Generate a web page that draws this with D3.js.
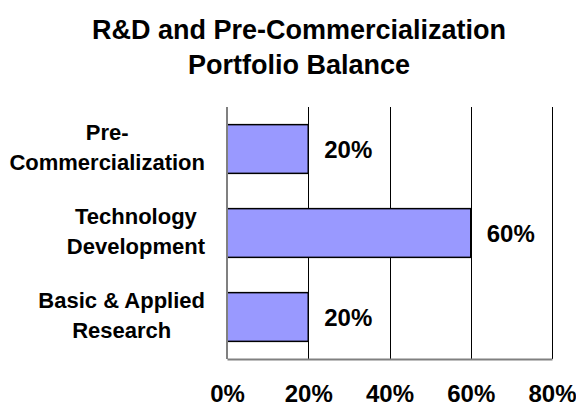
<!DOCTYPE html>
<html>
<head>
<meta charset="utf-8">
<script src="https://cdn.jsdelivr.net/npm/d3@7"></script>
<style>
  body { margin: 0; background: #fff; }
  text { font-family: "Liberation Sans", Arial, sans-serif; font-weight: bold; fill: #000; }
</style>
</head>
<body>
<script>
// data
const categories = ["Pre-Commercialization", "Technology Development", "Basic & Applied Research"];
const categoryLines = [["Pre-", "Commercialization"], ["Technology", "Development"], ["Basic & Applied", "Research"]];
const shares = [0.20, 0.60, 0.20];
const tickValues = [0, 0.2, 0.4, 0.6, 0.8];
const titleLines = ["R&D and Pre-Commercialization", "Portfolio Balance"];

const width = 576, height = 407;
const svg = d3.select("body").append("svg").attr("width", width).attr("height", height);

// title
svg.selectAll("text.title")
    .data(titleLines).enter()
    .append("text")
    .attr("class", "title")
    .attr("x", 299)
    .attr("y", function(d, i) { return 39 + i * 35; })
    .attr("text-anchor", "middle")
    .style("font-size", "27px")
    .text(function(d) { return d; });

const x = d3.scaleLinear().domain([0, 0.8]).range([227, 552]);
const y = d3.scaleBand().domain(categories).range([107, 359]).paddingInner(0.42).paddingOuter(0.21);

// gridlines
svg.append("g")
    .selectAll("line")
    .data(tickValues.slice(1)).enter()
    .append("line")
    .attr("x1", function(d) { return Math.round(x(d)) + 0.5; })
    .attr("x2", function(d) { return Math.round(x(d)) + 0.5; })
    .attr("y1", 107).attr("y2", 359)
    .attr("stroke", "#000").attr("stroke-width", 1);

// bars
svg.append("g")
    .selectAll("rect")
    .data(shares).enter()
    .append("rect")
    .attr("x", x(0))
    .attr("y", function(d, i) { return y(categories[i]); })
    .attr("width", function(d) { return x(d) - x(0); })
    .attr("height", y.bandwidth())
    .attr("fill", "#9999ff")
    .attr("stroke", "#000")
    .attr("stroke-width", 1.5);

// value labels
svg.append("g")
    .selectAll("text")
    .data(shares).enter()
    .append("text")
    .attr("x", function(d) { return x(d) + 16; })
    .attr("y", function(d, i) { return y(categories[i]) + y.bandwidth() / 2 + 9; })
    .style("font-size", "24px")
    .text(function(d) { return d3.format(".0%")(d); });

// left axis line
svg.append("line")
    .attr("x1", 227).attr("x2", 227)
    .attr("y1", 107).attr("y2", 359)
    .attr("stroke", "#808080").attr("stroke-width", 2);

// bottom axis
const xAxis = svg.append("g")
    .attr("transform", "translate(0,359)")
    .call(d3.axisBottom(x).tickValues(tickValues).tickSize(0).tickPadding(26).tickFormat(d3.format(".0%")));
xAxis.select(".domain").attr("stroke", "#808080").attr("stroke-width", 2);
xAxis.selectAll("text").style("font-size", "24px").attr("fill", "#000");

// category labels, lines centred on each other, block right aligned
const labelRight = 205;
categoryLines.forEach(function(lines, i) {
    const cy = y(categories[i]) + y.bandwidth() / 2;
    const g = svg.append("g");
    const t = g.selectAll("text")
        .data(lines).enter()
        .append("text")
        .attr("y", function(d, j) { return cy - 9.5 + j * 30; })
        .attr("text-anchor", "middle")
        .style("font-size", "22px")
        .text(function(d) { return d; });
    let maxW = 0;
    t.each(function() { maxW = Math.max(maxW, this.getComputedTextLength()); });
    t.attr("x", labelRight - maxW / 2);
});
</script>
</body>
</html>
